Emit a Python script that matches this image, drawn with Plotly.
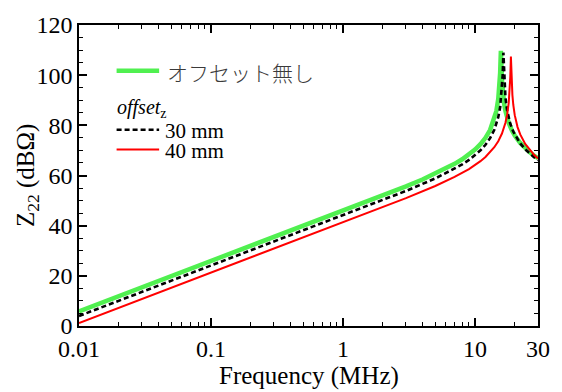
import plotly.graph_objects as go

# ---- data (frequency in MHz, Z22 in dBΩ) ----
freq_none = [0.01, 0.1, 1, 2, 3, 4, 5, 6, 7, 8, 9, 10, 11, 12, 13, 14, 14.5, 15, 15.3, 15.5,
             15.6, 15.7, 15.8, 16.0, 16.2, 16.6, 17, 17.5, 18, 19, 20, 22, 24, 26, 28, 30]
z_none = [5.8, 25.8, 45.84, 51.96, 55.67, 58.42, 60.71, 62.73, 64.63, 66.47, 68.35, 70.32,
          72.49, 75.01, 78.13, 82.49, 85.68, 90.51, 95.30, 100.93, 105.51, 109.72, 105.55,
          97.86, 93.66, 88.77, 85.68, 82.97, 80.96, 78.04, 75.93, 72.97, 70.88, 69.28, 67.97, 66.87]

freq_30 = [0.01, 0.1, 1, 2, 3, 5, 7, 8, 9, 10, 11, 12, 13, 14, 15, 15.5, 16.0, 16.2, 16.4,
           16.6, 16.8, 17, 17.5, 18, 18.5, 19.5, 21, 22, 24, 26, 28, 30]
z_30 = [4.0, 24.0, 44.03, 50.15, 53.84, 58.83, 62.65, 64.42, 66.20, 68.04, 70.02, 72.24,
        74.88, 78.25, 83.25, 87.21, 94.27, 99.92, 108.97, 100.01, 94.48, 91.09, 86.02,
        82.89, 80.63, 77.46, 74.32, 72.79, 70.45, 68.70, 67.30, 66.13]

freq_40 = [0.01, 0.1, 1, 2, 3, 5, 7, 9, 10, 11, 12, 13, 14, 15, 16, 17, 17.5, 18, 18.3,
           18.5, 18.7, 18.9, 19.2, 19.5, 20, 21, 22, 24, 26, 28, 30]
z_40 = [1.2, 21.2, 41.22, 47.32, 50.97, 55.82, 59.41, 62.58, 64.13, 65.72, 67.39, 69.22,
        71.26, 73.68, 76.72, 81.01, 84.16, 88.93, 93.73, 99.26, 107.39, 99.34, 92.06,
        88.12, 84.06, 79.30, 76.36, 72.58, 70.10, 68.26, 66.80]

x_tick_vals = [0.01, 0.1, 1, 10, 30]
x_tick_text = ["0.01", "0.1", "1", "10", "30"]
x_minor_vals = [0.02, 0.03, 0.04, 0.05, 0.06, 0.07, 0.08, 0.09,
                0.2, 0.3, 0.4, 0.5, 0.6, 0.7, 0.8, 0.9,
                2, 3, 4, 5, 6, 7, 8, 9, 20]
y_tick_vals = [0, 20, 40, 60, 80, 100, 120]

legend_none = "オフセット無し"
legend_title = "<i>offset</i><sub>z</sub>"
legend_30 = "30 mm"
legend_40 = "40 mm"
x_title = "Frequency (MHz)"
y_title = "Z<sub>22</sub> (dBΩ)"

GREEN = "#50f050"
RED = "#ff0000"
JP = "Noto Sans CJK JP"
SERIF = "Liberation Serif"

fig = go.Figure()
fig.add_trace(go.Scatter(x=freq_none, y=z_none, mode="lines",
                         line=dict(color=GREEN, width=4.5), showlegend=False))
fig.add_trace(go.Scatter(x=freq_30, y=z_30, mode="lines",
                         line=dict(color="black", width=2.6, dash="5px,3px"), showlegend=False))
fig.add_trace(go.Scatter(x=freq_40, y=z_40, mode="lines",
                         line=dict(color=RED, width=2), showlegend=False))

L, R, T, B = 79, 19, 20, 66
W, H = 562, 392
pw, ph = W - L - R, H - T - B


def px(xp):
    return (xp - L) / pw


def py(yp):
    return (H - B - yp) / ph


shapes = [
    dict(type="line", xref="paper", yref="paper", x0=px(117), x1=px(160), y0=py(66.5), y1=py(66.5),
         line=dict(color=GREEN, width=4.5)),
    dict(type="line", xref="paper", yref="paper", x0=px(117), x1=px(160), y0=py(126.5), y1=py(126.5),
         line=dict(color="black", width=2.6, dash="5px,3px")),
    dict(type="line", xref="paper", yref="paper", x0=px(117), x1=px(160), y0=py(146.5), y1=py(146.5),
         line=dict(color=RED, width=2)),
]

annotations = [
    dict(text=legend_none, xref="paper", yref="paper", x=px(166), y=py(68), xanchor="left",
         yanchor="middle", showarrow=False,
         font=dict(family=JP, size=21, color="#3a3a3a", weight=300)),
    dict(text=legend_title, xref="paper", yref="paper", x=px(115), y=py(105), xanchor="left",
         yanchor="middle", showarrow=False, font=dict(family=SERIF, size=20, color="black")),
    dict(text=legend_30, xref="paper", yref="paper", x=px(164), y=py(128), xanchor="left",
         yanchor="middle", showarrow=False, font=dict(family=SERIF, size=21, color="black")),
    dict(text=legend_40, xref="paper", yref="paper", x=px(164), y=py(148), xanchor="left",
         yanchor="middle", showarrow=False, font=dict(family=SERIF, size=21, color="black")),
    dict(text=x_title, xref="paper", yref="paper", x=0.5, y=py(377), xanchor="center",
         yanchor="middle", showarrow=False, font=dict(family=SERIF, size=25, color="black")),
    dict(text=y_title, xref="paper", yref="paper", x=px(27), y=0.5, xanchor="center",
         yanchor="middle", showarrow=False, textangle=-90,
         font=dict(family=SERIF, size=25, color="black")),
]

fig.update_layout(
    width=W, height=H,
    margin=dict(l=L, r=R, t=T, b=B, pad=0),
    paper_bgcolor="white", plot_bgcolor="white",
    showlegend=False,
    font=dict(family=SERIF, color="black"),
    shapes=shapes,
    annotations=annotations,
    xaxis=dict(type="log", range=[-2, 1.4771212547], tickmode="array",
               tickvals=x_tick_vals, ticktext=x_tick_text,
               ticks="inside", ticklen=8, tickwidth=1.5, tickcolor="black",
               showline=True, linecolor="black", linewidth=1.5, mirror="allticks",
               showgrid=False, zeroline=False,
               tickfont=dict(family=SERIF, size=24, color="black"),
               ticklabelstandoff=0,
               minor=dict(tickmode="array", tickvals=x_minor_vals, ticks="inside",
                          ticklen=4, tickwidth=1.2, tickcolor="black", showgrid=False)),
    yaxis=dict(range=[0, 120], tickmode="array", tickvals=y_tick_vals,
               ticks="inside", ticklen=8, tickwidth=1.5, tickcolor="black",
               showline=True, linecolor="black", linewidth=1.5, mirror="allticks",
               showgrid=False, zeroline=False,
               tickfont=dict(family=SERIF, size=24, color="black"),
               ticklabelstandoff=0,
               minor=dict(dtick=5, ticks="inside", ticklen=4, tickwidth=1.2,
                          tickcolor="black", showgrid=False)),
)

fig.write_html("out.html")
